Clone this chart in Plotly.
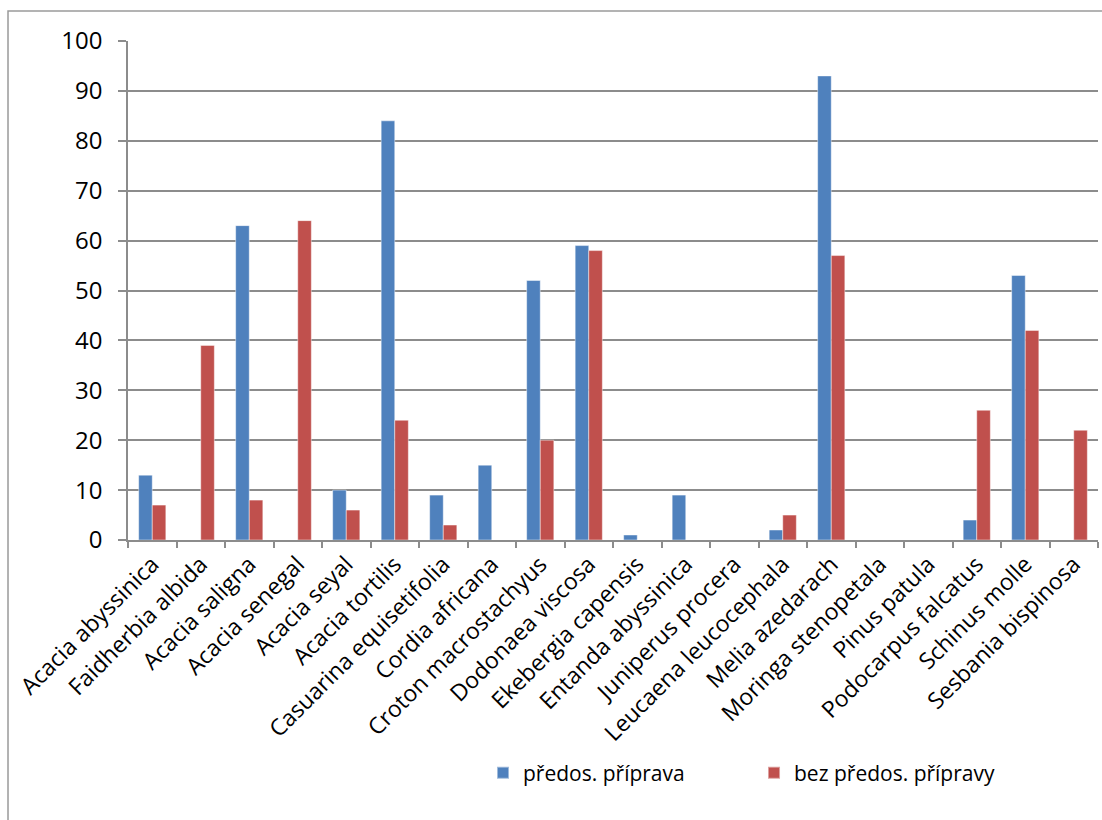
import plotly.graph_objects as go

species = [
    "Acacia abyssinica", "Faidherbia albida", "Acacia saligna", "Acacia senegal",
    "Acacia seyal", "Acacia tortilis", "Casuarina equisetifolia", "Cordia africana",
    "Croton macrostachyus", "Dodonaea viscosa", "Ekebergia capensis",
    "Entanda abyssinica", "Juniperus procera", "Leucaena leucocephala",
    "Melia azedarach", "Moringa stenopetala", "Pinus patula",
    "Podocarpus falcatus", "Schinus molle", "Sesbania bispinosa",
]
s_pripravou = [13, 0, 63, 0, 10, 84, 9, 15, 52, 59, 1, 9, 0, 2, 93, 0, 0, 4, 53, 0]
bez_pripravy = [7, 39, 8, 64, 6, 24, 3, 0, 20, 58, 0, 0, 0, 5, 57, 0, 0, 26, 42, 22]
y_ticks = list(range(0, 101, 10))

FONT = "Open Sans"
GRID = "#8c8c8c"

fig = go.Figure()
fig.add_trace(go.Bar(
    x=species, y=s_pripravou, name="předos. příprava",
    marker=dict(color="#4F81BD", line=dict(color="rgba(255,255,255,0.45)", width=1)),
))
fig.add_trace(go.Bar(
    x=species, y=bez_pripravy, name="bez předos. přípravy",
    marker=dict(color="#C0504D", line=dict(color="rgba(255,255,255,0.45)", width=1)),
))

fig.update_layout(
    width=1102, height=820,
    margin=dict(l=128, r=4, t=41, b=280, pad=0),
    paper_bgcolor="white", plot_bgcolor="white",
    barmode="group", bargap=0.44, bargroupgap=0,
    font=dict(family=FONT, color="black"),
    showlegend=True,
    legend=dict(
        orientation="h", x=0.366, xanchor="left", y=-0.467, yanchor="middle",
        font=dict(family=FONT, size=21), entrywidth=226, entrywidthmode="pixels",
        itemsizing="constant", bgcolor="rgba(0,0,0,0)",
    ),
    xaxis=dict(
        type="category", tickangle=-45, tickson="boundaries",
        ticks="outside", ticklen=6, tickcolor=GRID, tickwidth=1.5,
        showline=True, linecolor=GRID, linewidth=1.5, automargin=False,
        tickfont=dict(family=FONT, size=23), showgrid=False,
    ),
    yaxis=dict(
        range=[0, 100], tickvals=y_ticks, ticks="outside", ticklen=8,
        tickcolor=GRID, tickwidth=1.5, showline=True, linecolor=GRID, linewidth=1.5,
        showgrid=True, gridcolor=GRID, gridwidth=1.5, zeroline=False, automargin=False,
        tickfont=dict(family=FONT, size=24), ticklabelstandoff=11,
    ),
    shapes=[dict(
        type="rect", xref="paper", yref="paper",
        x0=-0.1237, x1=1.2, y0=-0.7, y1=1.0601,
        line=dict(color="#9a9a9a", width=1.5), fillcolor="rgba(0,0,0,0)", layer="below",
    )],
)

fig.write_html("out.html")
